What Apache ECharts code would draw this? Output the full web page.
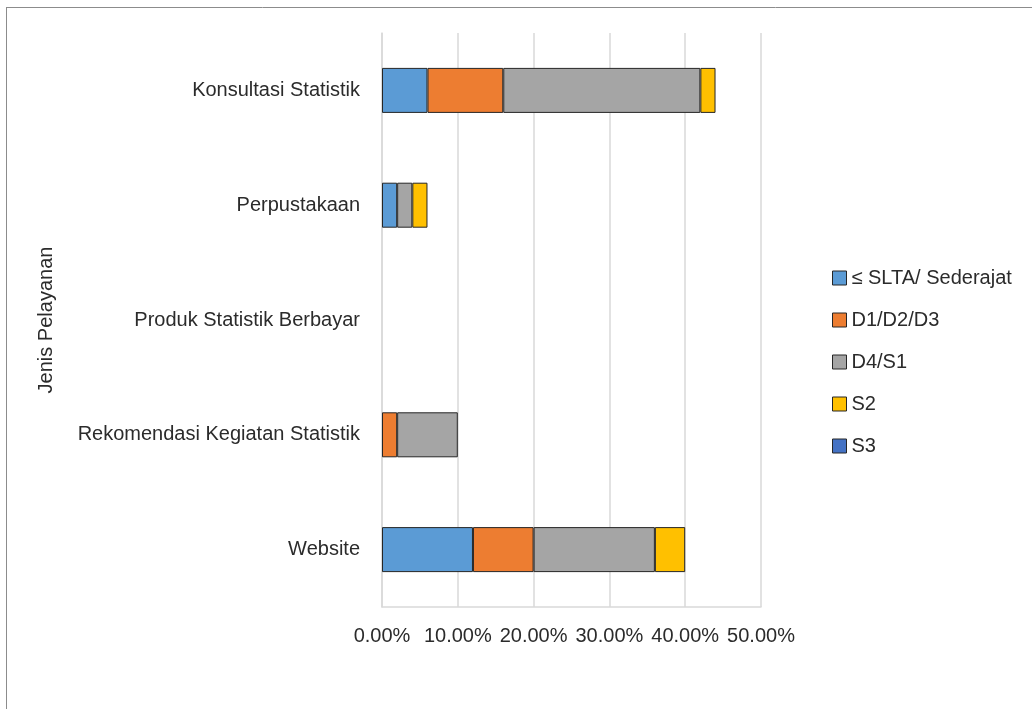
<!DOCTYPE html>
<html>
<head>
<meta charset="utf-8">
<script src="https://cdn.jsdelivr.net/npm/echarts@6/dist/echarts.min.js"></script>
<style>
  html, body { margin: 0; padding: 0; background: #fff; }
  #chart { width: 1032px; height: 709px; }
</style>
</head>
<body>
<div id="chart"></div>
<script>
// Service types, top to bottom
const categories = [
  'Konsultasi Statistik',
  'Perpustakaan',
  'Produk Statistik Berbayar',
  'Rekomendasi Kegiatan Statistik',
  'Website'
];

// Share of respondents by education level (percent)
const sltaValues   = [6, 2, 0, 0, 12];
const diplomaValues = [10, 0, 0, 2, 8];
const s1Values     = [26, 2, 0, 8, 16];
const s2Values     = [2, 2, 0, 0, 4];
const s3Values     = [0, 0, 0, 0, 0];

const seriesNames = ['≤ SLTA/ Sederajat', 'D1/D2/D3', 'D4/S1', 'S2', 'S3'];
const seriesColors = ['#5B9BD5', '#ED7D31', '#A5A5A5', '#FFC000', '#4472C4'];
const seriesValues = [sltaValues, diplomaValues, s1Values, s2Values, s3Values];

// Tick labels of the value axis
const tickLabels = ['0.00%', '10.00%', '20.00%', '30.00%', '40.00%', '50.00%'];

const FONT = 'Liberation Sans';
const TEXT = '#2b2b2b';

const chart = echarts.init(document.getElementById('chart'), null, { renderer: 'canvas' });

chart.setOption({
  animation: false,
  backgroundColor: '#ffffff',
  textStyle: { fontFamily: FONT },
  graphic: [
    { type: 'line', shape: { x1: 6, y1: 7.5, x2: 1032, y2: 7.5 }, style: { stroke: '#8c8c8c', lineWidth: 1 } },
    { type: 'line', shape: { x1: 6.5, y1: 7, x2: 6.5, y2: 709 }, style: { stroke: '#8c8c8c', lineWidth: 1 } }
  ],
  legend: {
    orient: 'vertical',
    left: 827,
    top: 262,
    itemWidth: 14,
    itemHeight: 14,
    itemGap: 20,
    icon: 'rect',
    data: seriesNames,
    textStyle: { fontFamily: FONT, fontSize: 20, color: TEXT, lineHeight: 22 },
    itemStyle: { borderColor: '#262626', borderWidth: 1 }
  },
  grid: {
    left: 382,
    right: 271,
    top: 33,
    bottom: 102,
    containLabel: false
  },
  xAxis: {
    type: 'value',
    min: 0,
    max: 50,
    interval: 10,
    axisLine: { show: true, lineStyle: { color: '#d9d9d9', width: 1.5 } },
    axisTick: { show: false },
    splitLine: { show: true, lineStyle: { color: '#d9d9d9', width: 1.5 } },
    axisLabel: {
      margin: 19,
      fontFamily: FONT,
      fontSize: 20,
      color: TEXT,
      formatter: function (v) { return tickLabels[Math.round(v / 10)]; }
    }
  },
  yAxis: {
    type: 'category',
    inverse: true,
    data: categories,
    name: 'Jenis Pelayanan',
    nameLocation: 'middle',
    nameGap: 326,
    nameRotate: 90,
    nameTextStyle: { fontFamily: FONT, fontSize: 20, color: TEXT },
    axisLine: { show: true, lineStyle: { color: '#d9d9d9', width: 1.5 } },
    axisTick: { show: false },
    axisLabel: { margin: 22, fontFamily: FONT, fontSize: 20, color: TEXT }
  },
  series: seriesNames.map(function (name, i) {
    return {
      name: name,
      type: 'bar',
      stack: 'total',
      barWidth: 45,
      itemStyle: { color: seriesColors[i], borderColor: '#262626', borderWidth: 1 },
      data: seriesValues[i].map(function (v) { return v === 0 ? null : v; })
    };
  })
});
</script>
</body>
</html>
